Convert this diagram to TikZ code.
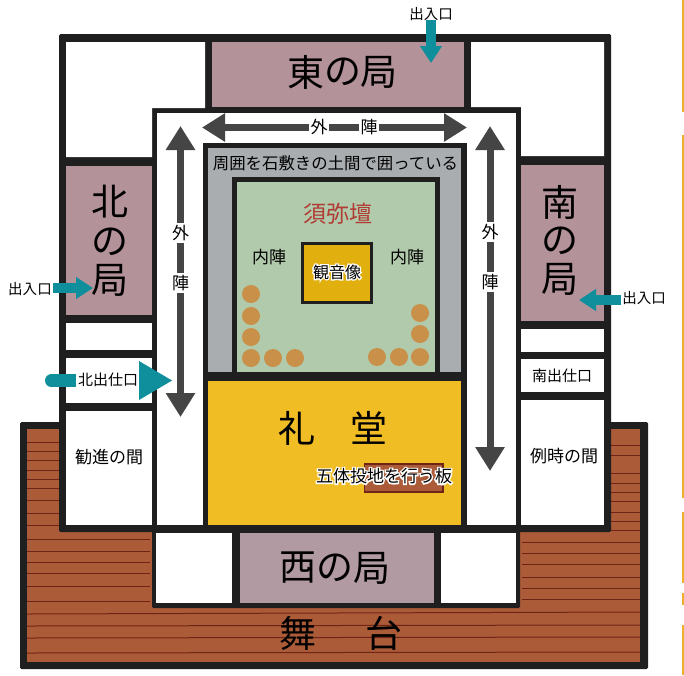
\documentclass[tikz,border=0pt]{standalone}
\usepackage{fontspec}
\setmainfont{Noto Sans CJK JP}
\newfontfamily\halofont[FakeBold=16]{Noto Sans CJK JP}
\usetikzlibrary{arrows.meta}
\definecolor{wallc}{HTML}{1F1F1F}
\definecolor{mauve}{HTML}{B3929A}
\definecolor{mauveb}{HTML}{B29AA3}
\definecolor{greenc}{HTML}{B1CAAB}
\definecolor{greyc}{HTML}{A9ADAF}
\definecolor{gold}{HTML}{F0BD24}
\definecolor{goldb}{HTML}{E2B00E}
\definecolor{stagec}{HTML}{AC5B38}
\definecolor{plank}{HTML}{6E2416}
\definecolor{teal}{HTML}{0F8E9B}
\definecolor{arrowc}{HTML}{454545}
\definecolor{redc}{HTML}{B03C34}
\definecolor{bead}{HTML}{C89048}
\definecolor{edgec}{HTML}{EDAE2C}
\tikzset{
  x=1pt,y=-1pt,
  wall/.style={fill=wallc,rounded corners=1.5pt},
  roomw/.style={fill=white},
  roomm/.style={fill=mauve},
  lab/.style={inner sep=0pt,text=black},
  big/.style={lab,font=\fontsize{37}{37}\selectfont},
  mid/.style={lab,font=\fontsize{17}{17}\selectfont},
  small/.style={lab,font=\fontsize{15}{15}\selectfont},
  door/.style={lab,font=\fontsize{14.5}{14.5}\selectfont},
  plankl/.style={plank,line width=1pt},
  bigarrow/.style={arrowc,line width=7pt},
  tealarrow/.style={-{Triangle[length=17pt,width=21pt]},teal,line width=10pt},
  beadc/.style={fill=bead},
  edgestrip/.style={fill=edgec},
}
\newcommand{\halotext}[4]{%
  \node[inner sep=0pt,text=white,font=\fontsize{#3}{#3}\halofont] at (#2) {#4};
  \node[lab,font=\fontsize{#3}{#3}\selectfont] (#1) at (#2) {#4};}
\newcommand{\gaptext}[3]{%
  \node[inner sep=1.5pt,fill=white,minimum width=20pt,minimum height=20pt,font=\fontsize{17}{17}\selectfont] (#1) at (#2) {#3};}
\begin{document}
\begin{tikzpicture}
\useasboundingbox (0,0) rectangle (684,675);
\fill[white] (0,0) rectangle (684,675);
% page edge
\foreach \a/\b in {0/112,135/340,340/498,512/583,593/605,625/675}
  \fill[edgestrip] (681.5,\a) rectangle (684,\b);
% stage
\fill[wall] (20,422) rectangle (648,669);
\fill[stagec] (27,429) rectangle (640,662);
\foreach \a in {442,451,460,470,479,488,500,513,525,539,551,562,573,586,601}
  \draw[plankl] (27,\a) -- (150,\a);
\foreach \b in {445,455,473,483,492,501,512,521,530,542,553,564,577,588,599}
  \draw[plankl] (522,\b) -- (640,\b);
\foreach \a/\b in {614/612,626/625,638/637,653/652} \draw[plankl] (27,\a) -- (640,\b);
% building mass
\fill[wall] (59,34) rectangle (611,532);
\fill[wall] (152,525) rectangle (520,608);
% upper rooms
\fill[roomw] (66,42) -- (205,42) -- (205,108) -- (152,108) -- (152,157) -- (66,157) -- cycle;
\fill[roomm] (212,42) rectangle (464,107);
\fill[roomw] (471,42) -- (604,42) -- (604,156) -- (521,156) -- (521,107) -- (471,107) -- cycle;
% north side
\fill[roomm] (66,166) rectangle (152,315);
\fill[roomw] (66,323) rectangle (152,350);
\fill[roomw] (66,358) rectangle (152,403);
\fill[roomw] (66,411) rectangle (152,525);
% south side
\fill[roomm] (521,165) rectangle (604,321);
\fill[roomw] (521,329) rectangle (604,352);
\fill[roomw] (521,359) rectangle (604,392);
\fill[roomw] (521,400) rectangle (604,525);
% west row
\fill[roomw] (156,533) rectangle (232,603);
\fill[mauveb] (240,533) rectangle (434,603);
\fill[roomw] (441,533) rectangle (516,603);
% corridor and centre
\fill[roomw] (157,113) rectangle (516,525);
\fill[wallc] (203,143) rectangle (467,532);
\fill[greyc] (208,148) rectangle (461,372);
\fill[wallc] (232,177) rectangle (440,376);
\fill[greenc] (237,182) rectangle (435,372);
\fill[gold] (208,381) rectangle (461,525);
\fill[goldb,draw=wallc,line width=3pt] (302.5,243.5) rectangle (371.5,302.5);
% beads
\foreach \p in {(251,294),(251,316),(251,337),(251,358),(273,358),(295,358),(377,357),(399,357),(420,357),(420,334),(420,313)}
  \fill[beadc] \p circle (9);
% board
\fill[stagec,draw=plank,line width=1.5pt] (364.5,464) rectangle (443,492);
% grey arrows
\coordinate (hl) at (202,127.5);
\coordinate (hr) at (467,127.5);
\coordinate (vlt) at (180.5,126);
\coordinate (vlb) at (180.5,417);
\coordinate (vrt) at (490,126);
\coordinate (vrb) at (490,471);
\draw[bigarrow,{Triangle[length=23pt,width=27pt]}-{Triangle[length=23pt,width=27pt]}] (hl) -- (hr);
\draw[bigarrow,{Triangle[length=24pt,width=28pt]}-{Triangle[length=24pt,width=28pt]}] (vlt) -- (vlb);
\draw[bigarrow,{Triangle[length=24pt,width=28pt]}-{Triangle[length=24pt,width=28pt]}] (vrt) -- (vrb);
% teal arrows
\coordinate (ta) at (431,20); \coordinate (tb) at (431,63);
\coordinate (la) at (53,288); \coordinate (lb) at (93,288);
\coordinate (ra) at (621,300); \coordinate (rb) at (579,300);
\draw[tealarrow] (ta) -- (tb);
\draw[tealarrow] (la) -- (lb);
\draw[tealarrow] (ra) -- (rb);
\coordinate (na) at (51.5,380.5); \coordinate (nb) at (172,380.5);
\fill[teal] (na) circle (6.5);
\fill[teal] (51.5,374) rectangle (76,387);
\fill[teal] (139,361) -- (nb) -- (139,400) -- cycle;
% labels
\node[big] (e1) at (306,72) {東};
\node[big] (e2) at (343,72) {の};
\node[big] (e3) at (379,72) {局};
\node[big] (n1) at (110,202) {北};
\node[big] (n2) at (110,242) {の};
\node[big] (n3) at (110,280) {局};
\node[big] (s1) at (560,202) {南};
\node[big] (s2) at (560,241) {の};
\node[big] (s3) at (560,279) {局};
\node[big] (w1) at (298,568) {西};
\node[big] (w2) at (335,568) {の};
\node[big] (w3) at (372,568) {局};
\node[big] (st1) at (298,633) {舞};
\node[big] (st2) at (384,633) {台};
\node[big] (h1) at (297,428) {礼};
\node[big] (h2) at (369,428) {堂};
\node[lab,text=redc,font=\fontsize{23}{23}\selectfont] (sumi) at (338,214) {須弥壇};
\node[lab,font=\fontsize{16.4}{16.4}\selectfont] (round) at (335.5,163) {周囲を石敷きの土間で囲っている};
\node[mid] (nl) at (269,257) {内陣};
\node[mid] (nr) at (407,257) {内陣};
\halotext{kan}{337,272}{16}{観音像}
\node[mid] (kanjin) at (109,457) {勧進の間};
\node[mid] (reiji) at (564,456) {例時の間};
\node[small] (minami) at (562,376) {南出仕口};
\node[small] (kita) at (108,380) {北出仕口};
\halotext{gotai}{384,476}{17}{五体投地を行う板}
\gaptext{g1}{319,127}{外}
\gaptext{g2}{369,127}{陣}
\gaptext{g3}{180.5,233}{外}
\gaptext{g4}{180.5,283}{陣}
\gaptext{g5}{490,232}{外}
\gaptext{g6}{490,282}{陣}
\node[door] (d1) at (431,14) {出入口};
\node[door] (d2) at (30,289) {出入口};
\node[door] (d3) at (644,298) {出入口};
\end{tikzpicture}
\end{document}
